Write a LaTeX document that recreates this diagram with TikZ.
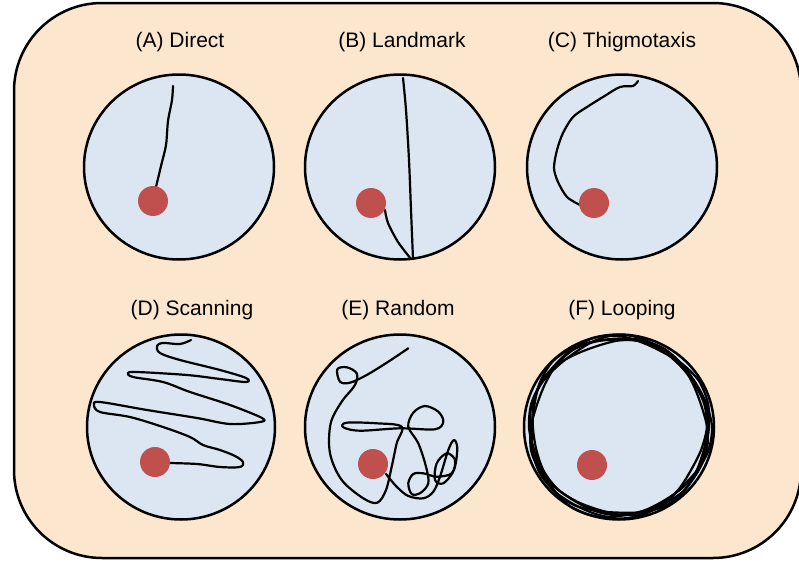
\documentclass[tikz,border=0pt]{standalone}
\usepackage{fontspec}
\setmainfont{Liberation Sans}
\definecolor{bgpeach}{HTML}{FCE6CD}
\definecolor{poolblue}{HTML}{DCE6F2}
\definecolor{goalred}{HTML}{C0504D}
\begin{document}
\begin{tikzpicture}[x=.5pt,y=-.5pt,font=\fontsize{10.5}{12}\selectfont,
  arena/.style={draw,line width=1.25pt,fill=poolblue},
  goal/.style={fill=goalred},
  track/.style={line width=1.1pt,line join=round,line cap=round},
  heading/.style={anchor=base,inner sep=0pt}]
\useasboundingbox (0,0) rectangle (799,562);
\draw[fill=bgpeach,line width=1.25pt,rounded corners=44pt] (14,3) rectangle (801,558);
% headings
\node[heading] (titleA) at (180,47.5) {(A) Direct};
\node[heading] (titleB) at (402,47.5) {(B) Landmark};
\node[heading] (titleC) at (622,47.5) {(C) Thigmotaxis};
\node[heading] (titleD) at (192,315) {(D) Scanning};
\node[heading] (titleE) at (398,315) {(E) Random};
\node[heading] (titleF) at (622,315) {(F) Looping};
% pools
\draw[arena] (179,167) ellipse (47.5pt and 46.25pt);
\draw[arena] (400,167) ellipse (47.5pt and 46.25pt);
\draw[arena] (622,167) ellipse (47.5pt and 46.25pt);
\draw[arena] (181,427) ellipse (47pt and 46.25pt);
\draw[arena] (400,427) ellipse (47.5pt and 46.25pt);
\draw[arena] (619,427) ellipse (47.5pt and 46.25pt);
% (A) direct
\draw[track] plot[smooth] coordinates {(173,86) (172,100) (168,121) (166,145) (161,166) (156,187)};
\fill[goal] (153,201) circle (7.5pt);
% (B) landmark
\draw[track] plot[smooth] coordinates {(403,78) (406,110) (409,160) (411,210) (413,259)};
\draw[track] plot[smooth] coordinates {(385,210) (388,223) (398,242) (411,259)};
\fill[goal] (371,203) circle (7.5pt);
% (C) thigmotaxis
\draw[track] plot[smooth] coordinates {(638,81) (633,86) (620,87) (603,97) (587,107) (573,117) (563,133) (557,150) (554,168) (558,182) (567,197) (580,205)};
\fill[goal] (594,203) circle (7.5pt);
% (D) scanning
\draw[track] plot[smooth,tension=.55] coordinates {(169,463) (197,464) (220,467) (240,467) (243,462) (235,456) (220,450) (203,445) (190,437) (163,427) (130,417) (100,412) (94,405) (100,402) (147,410) (197,418) (230,424) (260,422) (262,418) (230,405) (190,392) (163,382) (133,377) (128,373) (137,372) (187,375) (220,379) (246,382) (246,378) (220,370) (180,360) (160,353) (157,346) (163,343) (180,344) (191,340)};
\fill[goal] (155,462) circle (7.5pt);
% (E) random
\draw[track] plot[smooth,tension=.55] coordinates {(386,474) (396.7,486.7) (408.3,496) (423.3,498.3) (433.3,491.7) (440,476.7) (448.3,450) (454,440) (457.3,448.3) (454,470) (443.3,483.3) (435,480) (436.7,463.3) (446.7,453.3) (455,460) (451.7,473.3) (436.7,476.7) (423.3,473.3) (413.3,474) (408.3,483.3) (411.7,494) (420,493.3) (428.3,483.3) (426,466.7) (418.3,443.3) (408.3,426.7) (413.3,412.7) (425,406) (438.3,411.7) (443.3,421.7) (435,429.3) (400,428.3) (360,430.7) (343.3,427.3) (346.7,422.7) (376.7,423.3) (401.7,426.7) (396.7,443.3) (391.7,466.7) (386,490) (377.3,502.7) (363.3,498.3) (341.7,480) (330,453.3) (330.7,423.3) (341.7,401.7) (355,385) (356.7,373.3) (346.7,367.3) (337.3,369.3) (340,381.7) (350,382.7) (366.7,375) (388.3,361.7) (408.3,348.3)};
\fill[goal] (373,464) circle (7.5pt);
% (F) looping
\foreach \ph/\rr in {0/88,50/90,110/87,170/89,230/90}
  \draw[track] plot[smooth cycle,domain=0:345,samples=24] ({619+(\rr+2*sin(5*\x+\ph)+1.5*sin(3*\x+2*\ph))*cos(\x)},{427+(\rr+2*sin(5*\x+\ph)+1.5*sin(3*\x+2*\ph))*sin(\x)});
\fill[goal] (592,465) circle (7.5pt);
\end{tikzpicture}
\end{document}
